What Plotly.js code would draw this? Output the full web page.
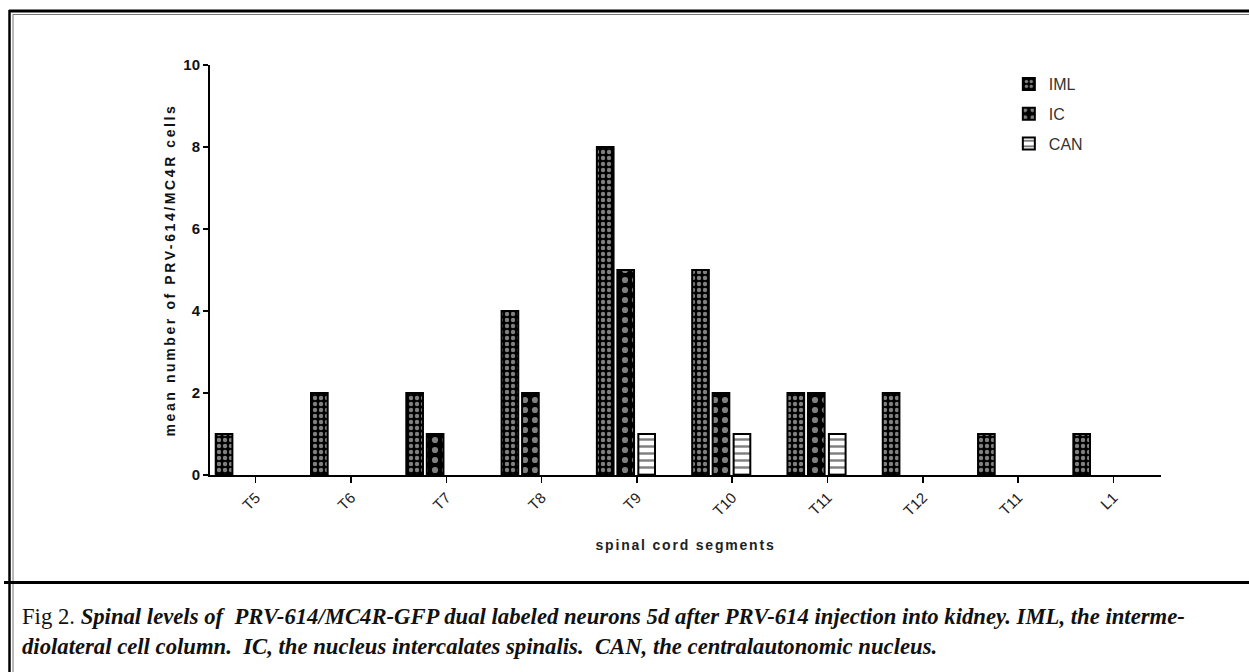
<!DOCTYPE html>
<html>
<head>
<meta charset="utf-8">
<script src="https://cdn.plot.ly/plotly-3.0.1.min.js"></script>
<style>
html,body{margin:0;padding:0;background:#fff;}
#chart{width:1249px;height:672px;}
#chart .xtitle{letter-spacing:1.8px;}
#chart .ytitle{letter-spacing:2.6px;}
</style>
</head>
<body>
<div id="chart"></div>
<script>
var segments = ["T5","T6","T7","T8","T9","T10","T11","T12","T11","L1"];
var IML = [1,2,2,4,8,5,2,2,1,1];
var IC  = [0,0,1,2,5,2,2,0,0,0];
var CAN = [0,0,0,0,1,1,1,0,0,0];
var seriesNames = ["IML","IC","CAN"];
var yTicks = [0,2,4,6,8,10];

var xs = segments.map(function(_, i){ return i; });
// zero values are simply not drawn as bars (as in the reference)
function shown(vals){ return vals.map(function(v){ return v > 0 ? v : null; }); }
var lineStyle = {color:'#000', width:2};

var traces = [
  {type:'bar', name:seriesNames[0], legendgroup:'a', x:xs, y:shown(IML), width:0.175, offset:-0.42,
   marker:{color:'#000', line:lineStyle,
     pattern:{shape:'.', fgcolor:'#fff', bgcolor:'#000', size:6, solidity:0.42, fillmode:'overlay'}}},
  {type:'bar', name:seriesNames[1], legendgroup:'b', x:xs, y:shown(IC), width:0.175, offset:-0.205,
   marker:{color:'#000', line:lineStyle,
     pattern:{shape:'.', fgcolor:'#fff', bgcolor:'#000', size:10, solidity:0.3, fillmode:'overlay'}}},
  {type:'bar', name:seriesNames[2], legendgroup:'c', x:xs, y:shown(CAN), width:0.175, offset:0.015,
   marker:{color:'#fff', line:lineStyle,
     pattern:{shape:'-', fgcolor:'#000', bgcolor:'#fff', size:7, solidity:0.35, fillmode:'overlay'}}}
];

var sans = '"Liberation Sans", Arial, sans-serif';
var captionFont = {family:'"Liberation Serif", "DejaVu Serif", serif', size:22.7, color:'#111'};

var layout = {
  width:1249, height:672,
  paper_bgcolor:'#fff', plot_bgcolor:'#fff',
  margin:{l:210, r:88, t:65, b:197},
  barmode:'overlay',
  showlegend:true,
  legend:{x:0.84, y:0.995, xanchor:'left', yanchor:'top', bgcolor:'rgba(0,0,0,0)',
    font:{family:sans, size:16, color:'#333'},
    tracegroupgap:6, itemwidth:30},
  xaxis:{
    range:[-0.48, 9.5], tickmode:'array', tickvals:xs, ticktext:segments,
    tickangle:-45, ticks:'outside', ticklen:6, tickwidth:1.5, tickcolor:'#000',
    showline:true, linecolor:'#000', linewidth:2, showgrid:false, zeroline:false,
    tickfont:{family:sans, size:15, color:'#222'},
    title:{text:'spinal cord segments', standoff:22,
      font:{family:sans, size:14, color:'#222', weight:'bold'}}
  },
  yaxis:{
    range:[0,10], tickmode:'array', tickvals:yTicks,
    ticks:'outside', ticklen:5, tickwidth:1.5, tickcolor:'#000',
    showline:true, linecolor:'#000', linewidth:2, showgrid:false, zeroline:false,
    tickfont:{family:sans, size:15, color:'#111', weight:'bold'},
    title:{text:'mean number of PRV-614/MC4R cells', standoff:4,
      font:{family:sans, size:14, color:'#111', weight:'bold'}}
  }
};

function px(x){ return (x - layout.margin.l) / (1249 - layout.margin.l - layout.margin.r); }
function py(y){ return (672 - layout.margin.b - y) / (672 - layout.margin.t - layout.margin.b); }

layout.shapes = [
  {type:'line', xref:'paper', yref:'paper', x0:px(9), x1:px(1249), y0:py(11), y1:py(11), line:{color:'#000', width:3}},
  {type:'line', xref:'paper', yref:'paper', x0:px(13), x1:px(1249), y0:py(14.5), y1:py(14.5), line:{color:'#777', width:1}},
  {type:'line', xref:'paper', yref:'paper', x0:px(9.5), x1:px(9.5), y0:py(10), y1:py(672), line:{color:'#000', width:2.5}},
  {type:'line', xref:'paper', yref:'paper', x0:px(13), x1:px(13), y0:py(14), y1:py(672), line:{color:'#777', width:1}},
  {type:'line', xref:'paper', yref:'paper', x0:px(4), x1:px(1249), y0:py(582.5), y1:py(582.5), line:{color:'#000', width:3}}
];

layout.annotations = [
  {xref:'paper', yref:'paper', x:px(20), y:py(616), xanchor:'left', yanchor:'middle', showarrow:false,
   font:captionFont,
   text:'Fig 2. <b><i>Spinal levels of  PRV-614/MC4R-GFP dual labeled neurons 5d after PRV-614 injection into kidney. IML, the interme-</i></b>'},
  {xref:'paper', yref:'paper', x:px(20), y:py(646), xanchor:'left', yanchor:'middle', showarrow:false,
   font:captionFont,
   text:'<b><i>diolateral cell column.  IC, the nucleus intercalates spinalis.  CAN, the centralautonomic nucleus.</i></b>'}
];

Plotly.newPlot('chart', traces, layout, {displayModeBar:false, staticPlot:true});
</script>
</body>
</html>
